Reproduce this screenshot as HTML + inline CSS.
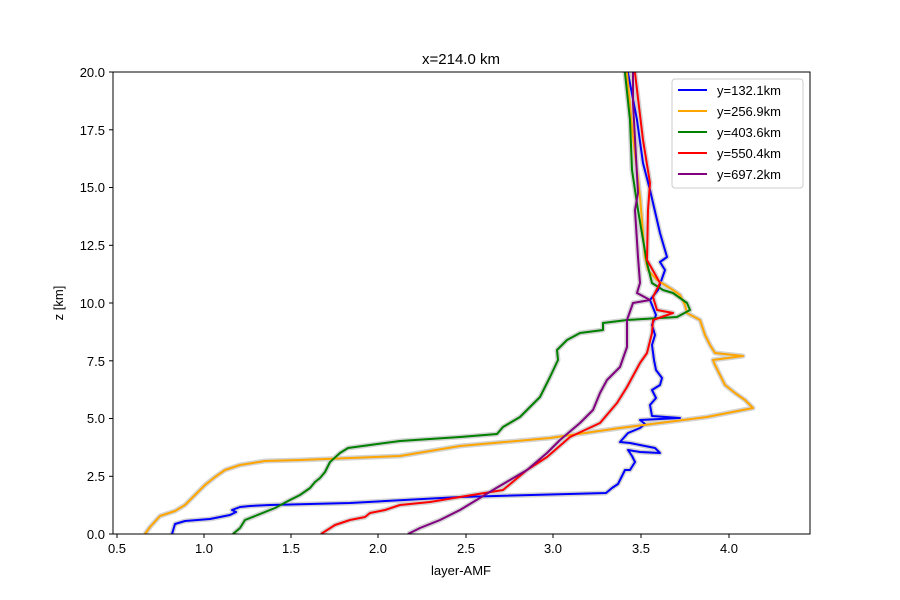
<!DOCTYPE html>
<html><head><meta charset="utf-8"><style>body{margin:0;background:#fff}svg{display:block}</style></head><body>
<svg width="900" height="600" xmlns="http://www.w3.org/2000/svg" font-family="Liberation Sans, DejaVu Sans, sans-serif">
<defs><clipPath id="c"><rect x="113" y="72" width="697" height="462"/></clipPath></defs>
<g clip-path="url(#c)" fill="none" stroke-linejoin="round">
<g stroke="#d3d3d3" stroke-width="5">
<polyline id="b" points="172,534 175,524 185,521 210,519 230,515 236,512 232,510 240,507 250,506 270,505 350,503 460,497 606,493 612,488 618,484 625,470 630,470 635,462 632,456 628,450 640,452 660,453 655,448 640,445 630,443 620,442 628,433 640,428 645,424 640,420 680,418 652,416 650,405 656,398 652,390 660,385 662,378 656,370 654,360 652,345 655,335 652,325 656,315 650,300 658,290 665,270 660,262 667,257 660,233 650,190 643,163 637,120 628,73 626,60"/>
<polyline id="o" points="145,534 150,527 160,516 175,511 185,505 200,490 205,485 215,477 225,470 240,465 265,461 300,460 400,456 460,446 550,438 620,428 707,417 753,408 745,400 735,393 725,385 720,375 715,365 713,360 743,356 715,353 710,345 705,335 700,320 687,313 685,305 680,295 673,290 657,280 648,270 645,257 640,197 633,137 627,73 625,60"/>
<polyline id="g" points="233,534 240,528 245,520 255,516 265,512 275,508 290,500 300,495 310,488 315,482 320,478 325,472 330,462 340,453 348,448 370,445 400,441 460,437 497,434 503,427 520,417 540,397 550,377 558,360 557,350 567,340 580,333 603,330 603,323 627,320 677,317 690,310 687,303 673,293 663,290 652,283 647,263 638,210 632,170 630,120 625,73 623,60"/>
<polyline id="r" points="321,534 335,525 350,520 365,517 370,513 385,510 400,505 430,502 460,497 503,490 527,470 547,457 570,437 600,423 617,403 627,387 640,363 647,353 652,333 653,320 673,313 657,310 653,297 660,283 647,260 648,210 650,183 643,140 635,73 633,60"/>
<polyline id="p" points="408,534 420,528 440,520 460,510 493,490 527,470 547,453 560,440 580,423 593,410 600,393 607,380 620,367 627,347 627,320 633,303 650,300 637,293 640,283 638,257 635,210 638,193 633,103 633,73 633,60"/>
</g>
<g stroke-width="2">
<use href="#b" stroke="blue"/><use href="#o" stroke="orange"/><use href="#g" stroke="green"/><use href="#r" stroke="red"/><use href="#p" stroke="purple"/>
</g>
</g>
<rect x="113" y="72" width="697" height="462" fill="none" stroke="#000" stroke-width="1"/>
<g stroke="#000">
<line x1="117" y1="534" x2="117" y2="538"/><line x1="204" y1="534" x2="204" y2="538"/><line x1="291" y1="534" x2="291" y2="538"/><line x1="378" y1="534" x2="378" y2="538"/><line x1="466" y1="534" x2="466" y2="538"/><line x1="553" y1="534" x2="553" y2="538"/><line x1="641" y1="534" x2="641" y2="538"/><line x1="729" y1="534" x2="729" y2="538"/>
<line x1="109" y1="534" x2="113" y2="534"/><line x1="109" y1="476.3" x2="113" y2="476.3"/><line x1="109" y1="418.5" x2="113" y2="418.5"/><line x1="109" y1="360.8" x2="113" y2="360.8"/><line x1="109" y1="303" x2="113" y2="303"/><line x1="109" y1="245.3" x2="113" y2="245.3"/><line x1="109" y1="187.5" x2="113" y2="187.5"/><line x1="109" y1="129.8" x2="113" y2="129.8"/><line x1="109" y1="72" x2="113" y2="72"/>
</g>
<g font-size="13" fill="#000" text-anchor="middle">
<text x="117" y="553">0.5</text><text x="204" y="553">1.0</text><text x="291" y="553">1.5</text><text x="378" y="553">2.0</text><text x="466" y="553">2.5</text><text x="553" y="553">3.0</text><text x="641" y="553">3.5</text><text x="729" y="553">4.0</text>
<text x="461" y="575">layer-AMF</text>
<text x="461" y="64" font-size="15">x=214.0 km</text>
</g>
<g font-size="13" fill="#000" text-anchor="end">
<text x="105" y="539">0.0</text><text x="105" y="481">2.5</text><text x="105" y="423">5.0</text><text x="105" y="366">7.5</text><text x="105" y="308">10.0</text><text x="105" y="250">12.5</text><text x="105" y="192">15.0</text><text x="105" y="135">17.5</text><text x="105" y="77">20.0</text>
</g>
<text transform="translate(63,303) rotate(-90)" font-size="13" text-anchor="middle">z [km]</text>
<rect x="672" y="79" width="131" height="109" rx="3" fill="#fff" fill-opacity="0.8" stroke="#ccc"/>
<g stroke-width="2">
<line x1="678" y1="90" x2="707" y2="90" stroke="blue"/><line x1="678" y1="111" x2="707" y2="111" stroke="orange"/><line x1="678" y1="132" x2="707" y2="132" stroke="green"/><line x1="678" y1="153" x2="707" y2="153" stroke="red"/><line x1="678" y1="174" x2="707" y2="174" stroke="purple"/>
</g>
<g font-size="13" fill="#000">
<text x="717" y="95">y=132.1km</text><text x="717" y="116">y=256.9km</text><text x="717" y="137">y=403.6km</text><text x="717" y="158">y=550.4km</text><text x="717" y="179">y=697.2km</text>
</g>
</svg>
</body></html>
